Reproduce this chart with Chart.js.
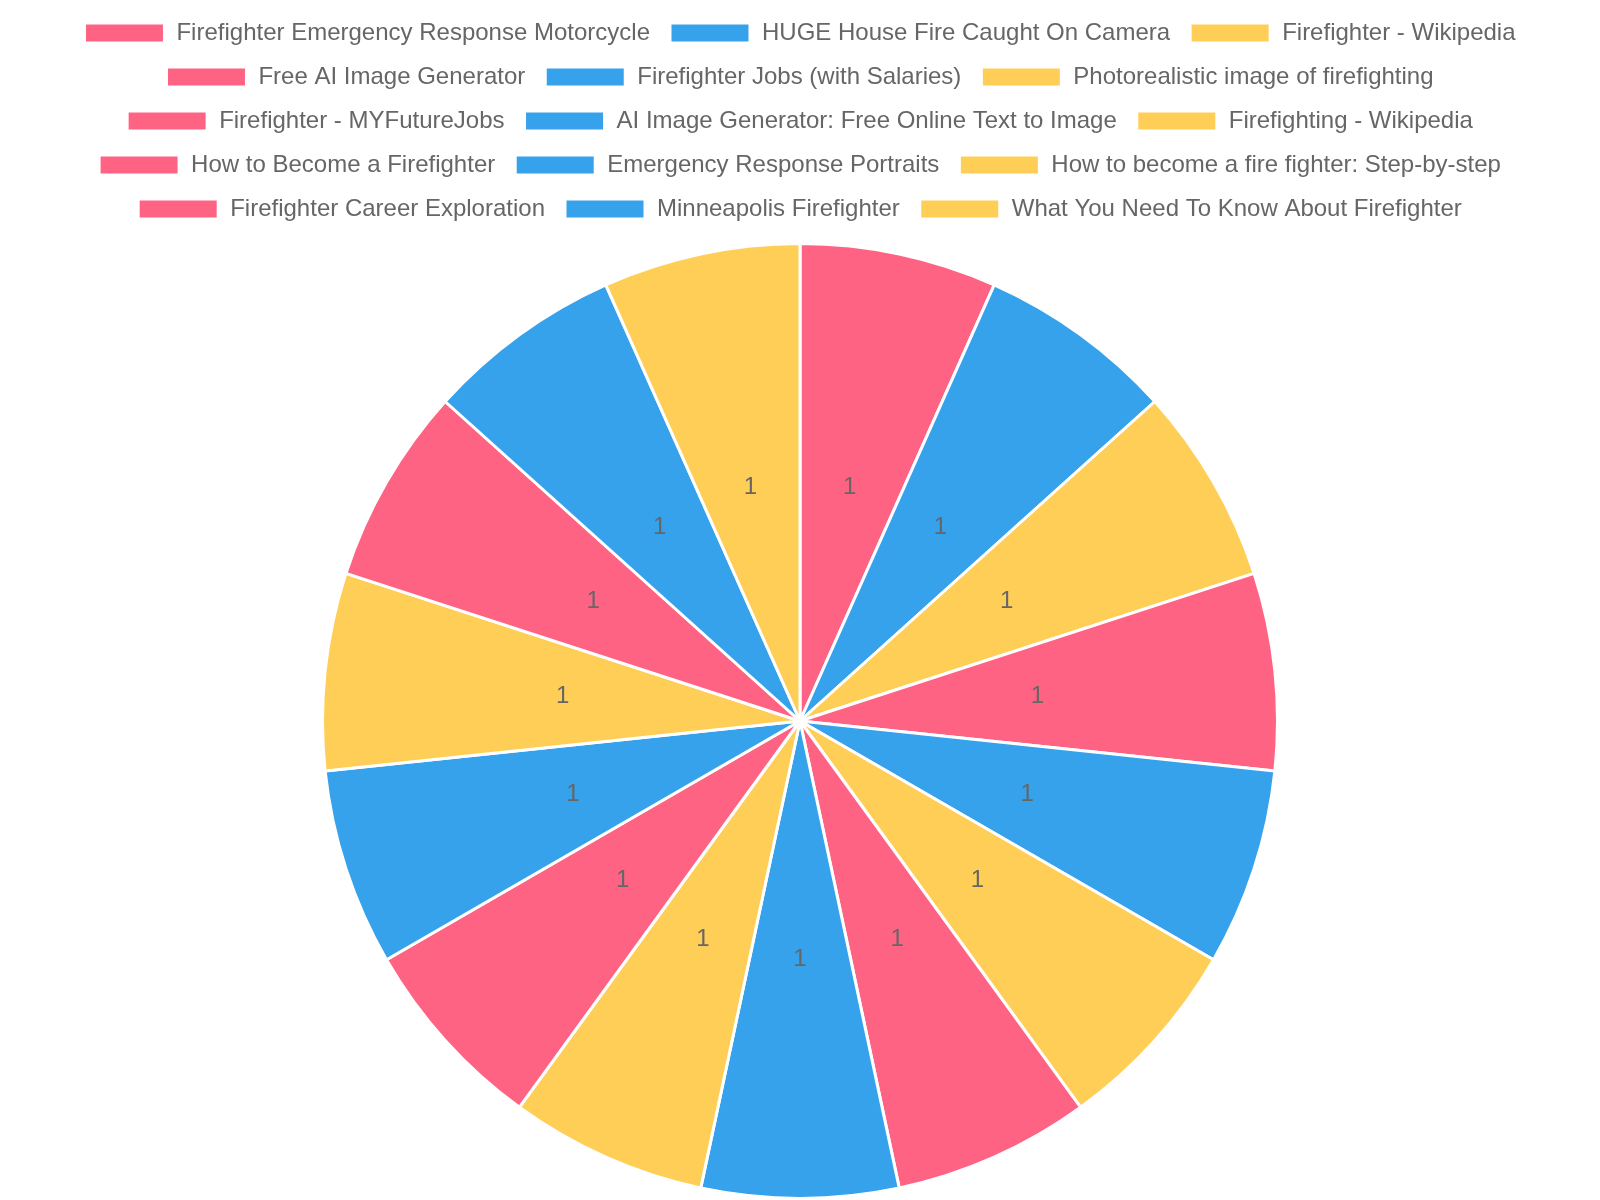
<!DOCTYPE html>
<html>
<head>
<meta charset="utf-8">
<script src="https://cdn.jsdelivr.net/npm/chart.js@4/dist/chart.umd.min.js"></script>
<style>
html,body{margin:0;padding:0;background:#fff;}
#wrap{width:1600px;height:1200px;}
</style>
</head>
<body>
<div id="wrap"><canvas id="c"></canvas></div>
<script>
const categories = [
  "Firefighter Emergency Response Motorcycle",
  "HUGE House Fire Caught On Camera",
  "Firefighter - Wikipedia",
  "Free AI Image Generator",
  "Firefighter Jobs (with Salaries)",
  "Photorealistic image of firefighting",
  "Firefighter - MYFutureJobs",
  "AI Image Generator: Free Online Text to Image",
  "Firefighting - Wikipedia",
  "How to Become a Firefighter",
  "Emergency Response Portraits",
  "How to become a fire fighter: Step-by-step",
  "Firefighter Career Exploration",
  "Minneapolis Firefighter",
  "What You Need To Know About Firefighter"
];
const values = [1,1,1,1,1,1,1,1,1,1,1,1,1,1,1];
const palette = ["rgb(255,99,132)","rgb(54,162,235)","rgb(255,206,86)"];
const colors = categories.map((_, i) => palette[i % 3]);

const labelPlugin = {
  id: 'sliceLabels',
  afterDatasetsDraw(chart) {
    const ctx = chart.ctx;
    const meta = chart.getDatasetMeta(0);
    ctx.save();
    ctx.font = '24px "Liberation Sans", Arial, sans-serif';
    ctx.fillStyle = '#666';
    ctx.textAlign = 'center';
    ctx.textBaseline = 'middle';
    meta.data.forEach((arc, i) => {
      const p = arc.getCenterPoint();
      ctx.fillText(String(chart.data.datasets[0].data[i]), p.x, p.y);
    });
    ctx.restore();
  }
};

const legendSpacer = {
  id: 'legendSpacer',
  beforeInit(chart) {
    const origFit = chart.legend.fit;
    chart.legend.fit = function() {
      origFit.bind(chart.legend)();
      this.height += 11;
    };
  }
};

new Chart(document.getElementById('c'), {
  type: 'pie',
  data: {
    labels: categories,
    datasets: [{
      data: values,
      backgroundColor: colors,
      borderColor: '#fff',
      borderWidth: 3
    }]
  },
  options: {
    responsive: true,
    maintainAspectRatio: false,
    animation: false,
    layout: { padding: { top: 1 } },
    plugins: {
      legend: {
        position: 'top',
        labels: {
          font: { size: 24, family: '"Liberation Sans", Arial, sans-serif' },
          color: '#666',
          boxWidth: 80,
          boxHeight: 20,
          padding: 20
        }
      },
      tooltip: { enabled: false }
    }
  },
  plugins: [legendSpacer, labelPlugin]
});
</script>
</body>
</html>
